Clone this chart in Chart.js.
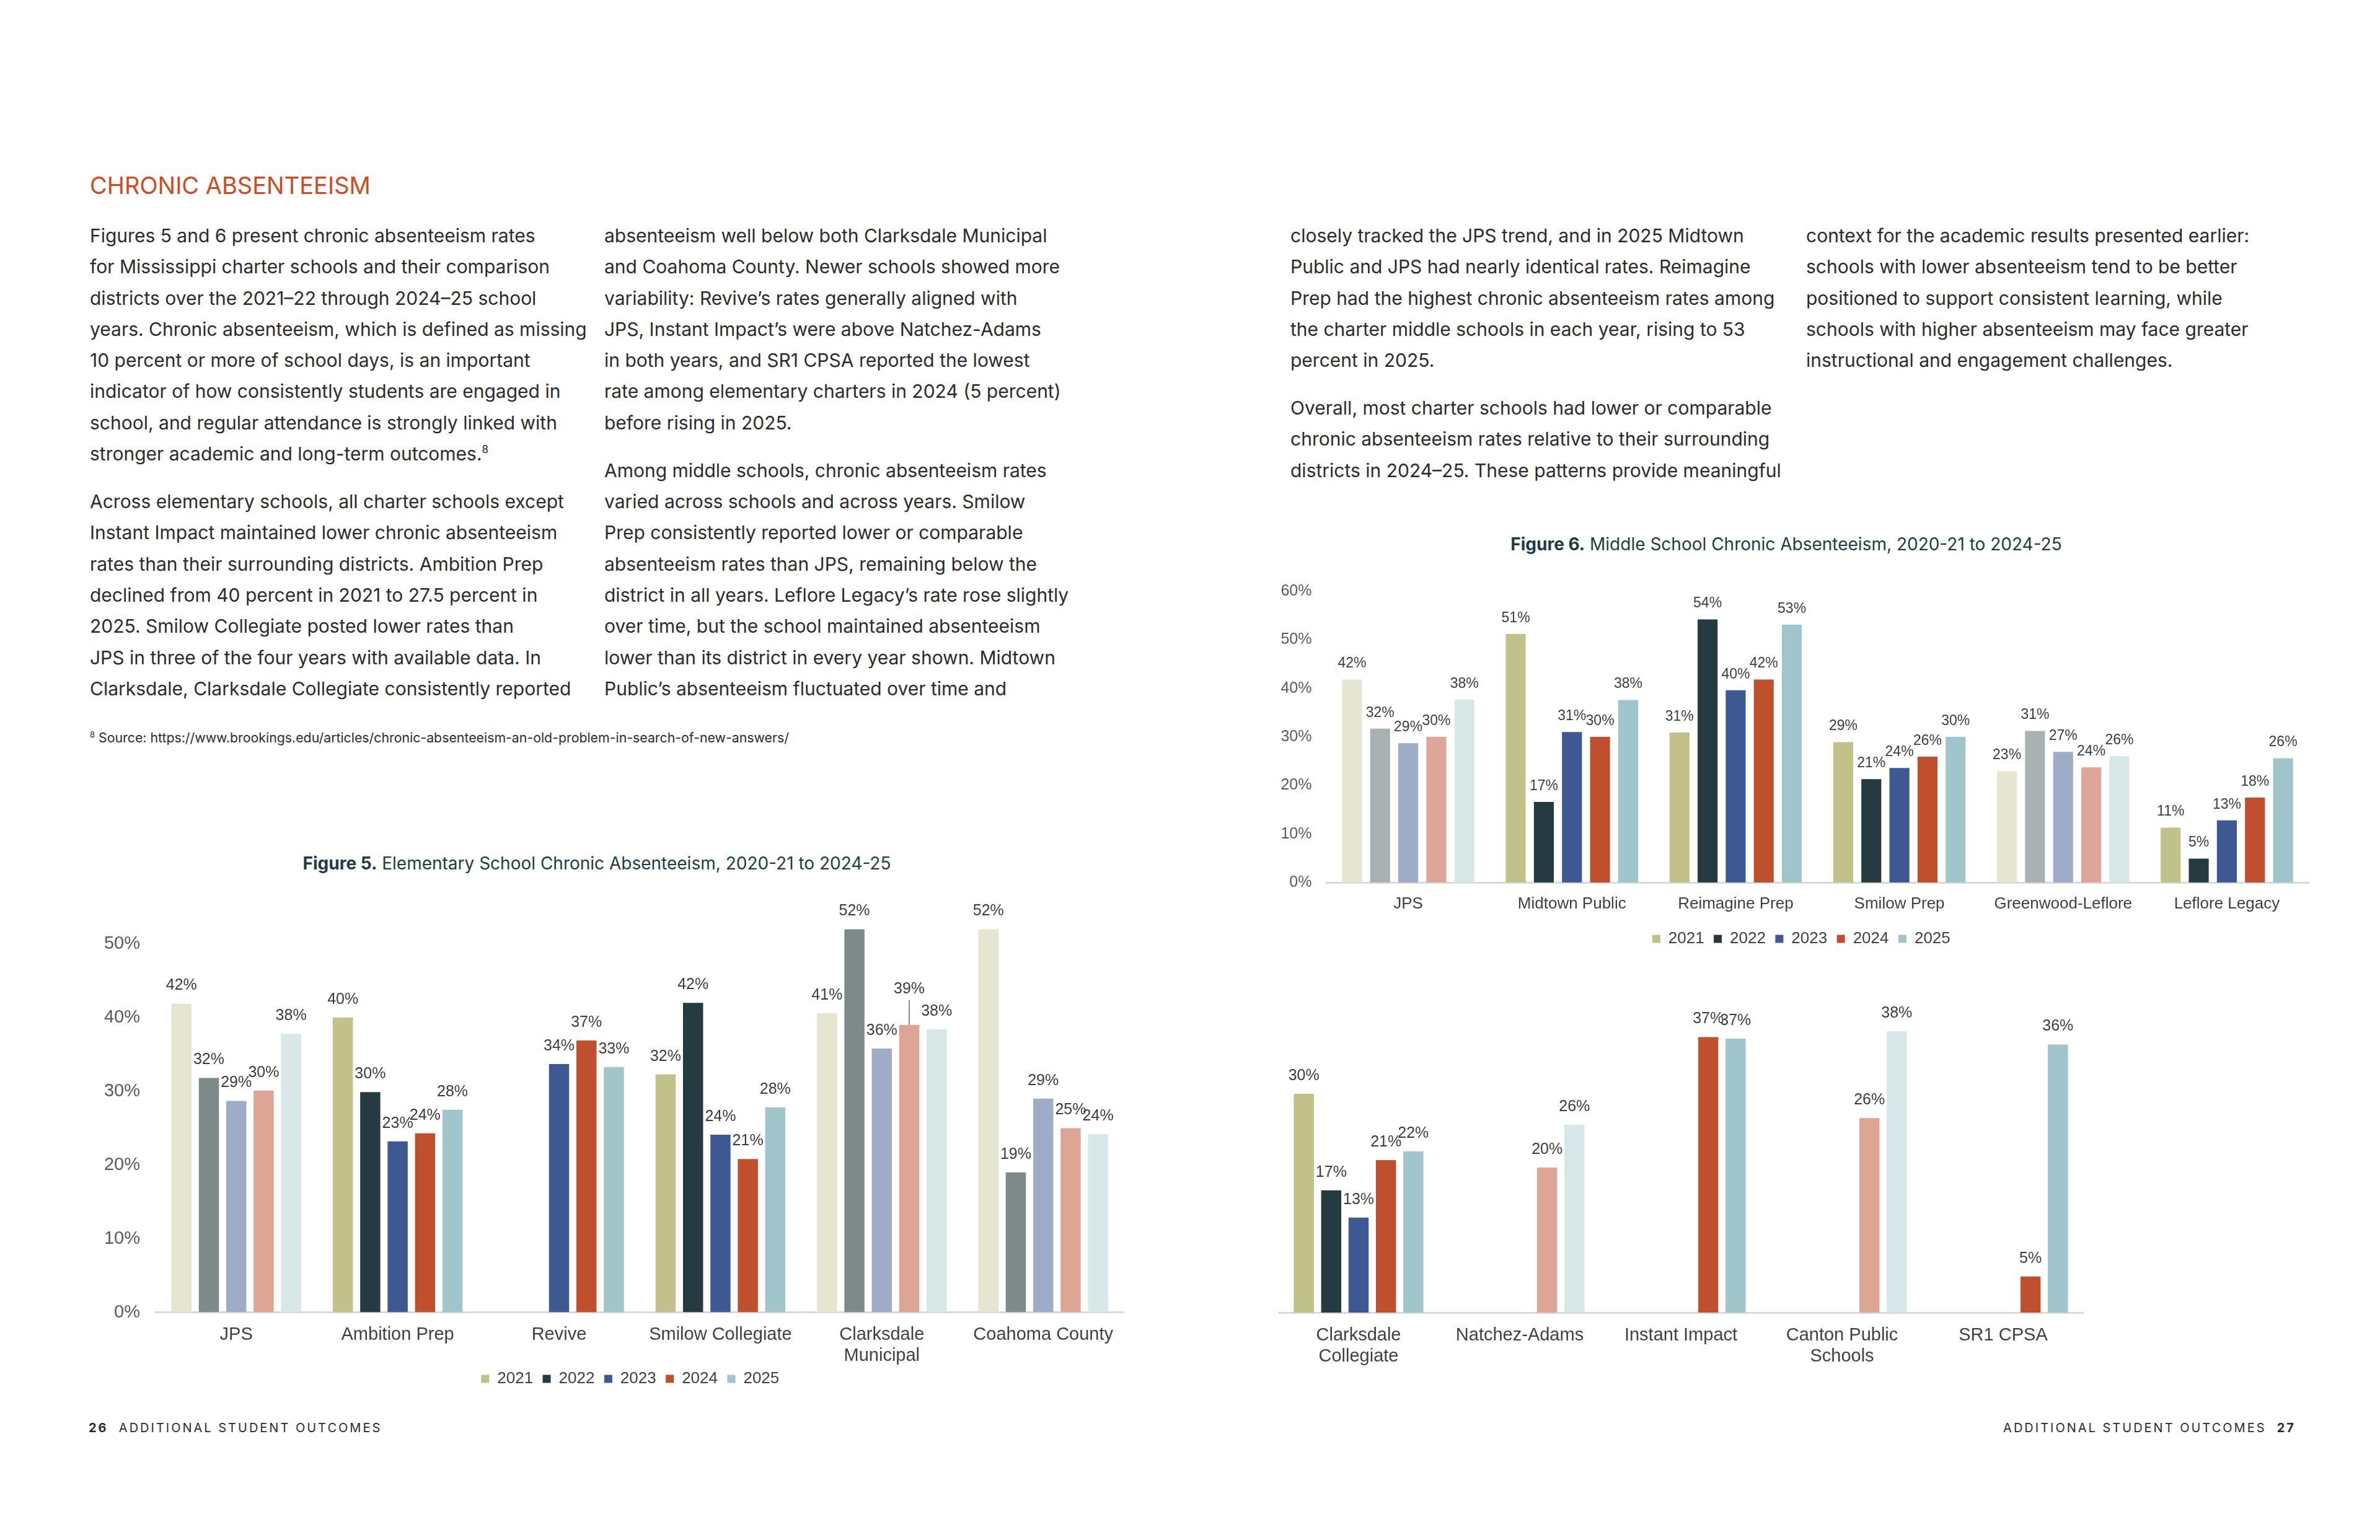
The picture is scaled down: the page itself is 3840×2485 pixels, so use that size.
<!DOCTYPE html>
<html>
<head>
<meta charset="utf-8">
<script src="https://cdn.jsdelivr.net/npm/chart.js@4.4.1/dist/chart.umd.min.js"></script>
<style>
  html, body { margin: 0; padding: 0; background: #fff; }
  body { width: 3840px; height: 2485px; position: relative; overflow: hidden;
         font-family: Inter, "Liberation Sans", sans-serif; color: #2b2b2b; }
  .t { position: absolute; white-space: nowrap; }
  .col { font-size: 30px; line-height: 50.3px; }
  .col p { margin: 0 0 26.7px 0; }
  .col sup { font-size: 17px; line-height: 0; vertical-align: 12px; }
  .head { font-size: 38px; line-height: 38px; color: #d0491f; }
  .fig { font-size: 28px; line-height: 28px; color: #1e3b45; transform: translateX(-50%); }
  .note { font-size: 21.3px; line-height: 20px; color: #2b2b2b; }
  .note sup { font-size: 13px; vertical-align: 8px; line-height: 0; }
  .foot { font-size: 20px; line-height: 20px; letter-spacing: 3px; color: #2b2b2b; }
  canvas { position: absolute; }
</style>
</head>
<body>

<div class="t head" style="left:145px; top:280px;">CHRONIC ABSENTEEISM</div>

<div class="t col" style="left:145px; top:355px;">
<p>Figures 5 and 6 present chronic absenteeism rates<br>
for Mississippi charter schools and their comparison<br>
districts over the 2021–22 through 2024–25 school<br>
years. Chronic absenteeism, which is defined as missing<br>
10 percent or more of school days, is an important<br>
indicator of how consistently students are engaged in<br>
school, and regular attendance is strongly linked with<br>
stronger academic and long-term outcomes.<sup>8</sup></p>
<p>Across elementary schools, all charter schools except<br>
Instant Impact maintained lower chronic absenteeism<br>
rates than their surrounding districts. Ambition Prep<br>
declined from 40 percent in 2021 to 27.5 percent in<br>
2025. Smilow Collegiate posted lower rates than<br>
JPS in three of the four years with available data. In<br>
Clarksdale, Clarksdale Collegiate consistently reported</p>
</div>

<div class="t col" style="left:975px; top:355px;">
<p>absenteeism well below both Clarksdale Municipal<br>
and Coahoma County. Newer schools showed more<br>
variability: Revive’s rates generally aligned with<br>
JPS, Instant Impact’s were above Natchez-Adams<br>
in both years, and SR1 CPSA reported the lowest<br>
rate among elementary charters in 2024 (5 percent)<br>
before rising in 2025.</p>
<p>Among middle schools, chronic absenteeism rates<br>
varied across schools and across years. Smilow<br>
Prep consistently reported lower or comparable<br>
absenteeism rates than JPS, remaining below the<br>
district in all years. Leflore Legacy’s rate rose slightly<br>
over time, but the school maintained absenteeism<br>
lower than its district in every year shown. Midtown<br>
Public’s absenteeism fluctuated over time and</p>
</div>

<div class="t col" style="left:2082px; top:355px;">
<p>closely tracked the JPS trend, and in 2025 Midtown<br>
Public and JPS had nearly identical rates. Reimagine<br>
Prep had the highest chronic absenteeism rates among<br>
the charter middle schools in each year, rising to 53<br>
percent in 2025.</p>
<p>Overall, most charter schools had lower or comparable<br>
chronic absenteeism rates relative to their surrounding<br>
districts in 2024–25. These patterns provide meaningful</p>
</div>

<div class="t col" style="left:2914px; top:355px;">
<p>context for the academic results presented earlier:<br>
schools with lower absenteeism tend to be better<br>
positioned to support consistent learning, while<br>
schools with higher absenteeism may face greater<br>
instructional and engagement challenges.</p>
</div>

<div class="t note" style="left:145px; top:1180px;"><sup>8</sup> Source: https://www.brookings.edu/articles/chronic-absenteeism-an-old-problem-in-search-of-new-answers/</div>

<div class="t fig" style="left:2882px; top:864px;"><b>Figure 6.</b> Middle School Chronic Absenteeism, 2020-21 to 2024-25</div>
<div class="t fig" style="left:963px; top:1379px;"><b>Figure 5.</b> Elementary School Chronic Absenteeism, 2020-21 to 2024-25</div>

<canvas id="fig6"></canvas>
<canvas id="fig5a"></canvas>
<canvas id="fig5b"></canvas>

<div class="t foot" style="left:143px; top:2294px;"><b>26</b>&nbsp;&nbsp;ADDITIONAL STUDENT OUTCOMES</div>
<div class="t foot" style="right:136px; top:2294px;">ADDITIONAL STUDENT OUTCOMES&nbsp;&nbsp;<b>27</b></div>

<script>
const years = ['2021', '2022', '2023', '2024', '2025'];

// Figure 6 - middle schools
const msSchools = ['JPS', 'Midtown Public', 'Reimagine Prep', 'Smilow Prep', 'Greenwood-Leflore', 'Leflore Legacy'];
const msDistrict = [true, false, false, false, true, false];
const ms2021 = [41.8, 51.2, 30.9, 28.9, 22.9, 11.3];
const ms2022 = [31.7, 16.6, 54.2, 21.3, 31.2, 4.9];
const ms2023 = [28.7, 31.0, 39.6, 23.6, 26.9, 12.8];
const ms2024 = [30.0, 30.0, 41.8, 25.9, 23.7, 17.5];
const ms2025 = [37.7, 37.6, 53.1, 30.0, 26.0, 25.6];

// Figure 5 - elementary schools (left page)
const esSchools = ['JPS', 'Ambition Prep', 'Revive', 'Smilow Collegiate', ['Clarksdale', 'Municipal'], 'Coahoma County'];
const esDistrict = [true, false, false, false, true, true];
const es2021 = [41.9, 40.0, null, 32.3, 40.6, 52.0];
const es2022 = [31.8, 29.9, null, 42.0, 52.0, 19.0];
const es2023 = [28.7, 23.2, 33.7, 24.1, 35.8, 29.0];
const es2024 = [30.1, 24.3, 36.9, 20.8, 39.0, 25.0];
const es2025 = [37.8, 27.5, 33.3, 27.8, 38.4, 24.2];

// Figure 5 - elementary schools (right page)
const es2Schools = [['Clarksdale', 'Collegiate'], 'Natchez-Adams', 'Instant Impact', ['Canton Public', 'Schools'], 'SR1 CPSA'];
const es2District = [false, true, false, true, false];
const es2_2021 = [29.7, null, null, null, null];
const es2_2022 = [16.6, null, null, null, null];
const es2_2023 = [12.9, null, null, null, null];
const es2_2024 = [20.7, 19.7, 37.4, 26.4, 4.9];
const es2_2025 = [21.9, 25.5, 37.2, 38.2, 36.4];

const yTicks = [0, 10, 20, 30, 40, 50, 60];

const charterColors = ['#c2c18a', '#263b41', '#3d5892', '#c0502d', '#a0c5ca'];
const districtColors6 = ['#e6e6d2', '#a9b1b2', '#9eacc8', '#dea696', '#d8e8e9'];
const districtColors5 = ['#e5e5d0', '#7e8a8a', '#9eacc8', '#dea595', '#d8e8e8'];

const chartFont = '"Liberation Sans", Arial, sans-serif';

// value labels above the bars
const barLabels = {
    id: 'barLabels',
    afterDatasetsDraw(chart, args, opts) {
        const ctx = chart.ctx;
        ctx.save();
        ctx.font = opts.size + 'px ' + chartFont;
        ctx.fillStyle = opts.color;
        ctx.textAlign = 'center';
        ctx.textBaseline = 'middle';
        chart.data.datasets.forEach((ds, di) => {
            chart.getDatasetMeta(di).data.forEach((bar, i) => {
                const v = ds.data[i];
                if (v === null || v === undefined) return;
                const lift = (opts.lifts || []).find(l => l.ds === di && l.i === i);
                const y = bar.y - opts.offset - (lift ? lift.by : 0);
                if (lift) {
                    ctx.strokeStyle = '#8a8a8a';
                    ctx.lineWidth = 2;
                    ctx.beginPath();
                    ctx.moveTo(bar.x, y + 18);
                    ctx.lineTo(bar.x, bar.y);
                    ctx.stroke();
                }
                ctx.fillText(Math.round(v) + '%', bar.x, y);
            });
        });
        ctx.restore();
    }
};

function makeSets(series, flags, pal, barPct, catPct) {
    return series.map((data, i) => ({
        label: years[i],
        data: data,
        backgroundColor: c => flags[c.dataIndex] ? pal[i] : charterColors[i],
        borderWidth: 0,
        barPercentage: barPct,
        categoryPercentage: catPct
    }));
}

function makeConfig(cfg) {
    const scales = {
        x: {
            grid: { display: false, drawTicks: false },
            border: { display: true, color: '#d9d9d9', width: 3 },
            ticks: {
                font: { family: chartFont, size: cfg.catSize, lineHeight: 1.17 }, color: '#404040',
                padding: cfg.xPad, maxRotation: 0, autoSkip: false
            },
            afterFit: s => { s.height = cfg.xH; }
        },
        y: {
            display: cfg.yAxis,
            min: 0, max: 60,
            grid: { display: false, drawTicks: false },
            border: { display: false },
            afterBuildTicks: s => { s.ticks = yTicks.map(v => ({ value: v })); },
            ticks: {
                font: { family: chartFont, size: cfg.tickSize }, color: '#595959', padding: cfg.yPad,
                callback: v => v <= cfg.yTop ? v + '%' : ''
            },
            afterFit: s => { if (cfg.yAxis) s.width = cfg.yW; }
        }
    };
    if (cfg.y2W) {
        // empty spacer on the right so the legend sits where it does in the report
        scales.yR = {
            type: 'linear', position: 'right', display: true,
            grid: { display: false, drawTicks: false }, border: { display: false },
            ticks: { display: false },
            afterFit: s => { s.width = cfg.y2W; }
        };
    }
    return {
        type: 'bar',
        data: { labels: cfg.labels, datasets: makeSets(cfg.series, cfg.flags, cfg.pal, cfg.barPct, cfg.catPct) },
        plugins: [barLabels],
        options: {
            responsive: false,
            maintainAspectRatio: false,
            animation: false,
            devicePixelRatio: 1,
            layout: { padding: { left: 0, right: 0, top: 40, bottom: 0 } },
            plugins: {
                tooltip: { enabled: false },
                legend: cfg.legend ? {
                    display: true,
                    position: 'bottom',
                    labels: {
                        boxWidth: 13, boxHeight: 13, padding: 1, color: '#404040',
                        font: { family: chartFont, size: 26 },
                        generateLabels: () => years.map((y, i) => ({
                            text: y + '  ', fillStyle: charterColors[i], strokeStyle: charterColors[i],
                            lineWidth: 0, hidden: false, datasetIndex: i, fontColor: '#404040'
                        }))
                    }
                } : { display: false },
                barLabels: { size: cfg.labelSize, offset: cfg.labelOffset, color: '#3b3b3b', lifts: cfg.lifts || [] }
            },
            scales: scales
        }
    };
}

// build once, measure the plot area, rebuild so the plot area lands on the target box
function build(id, cfg, box) {
    const c = document.getElementById(id);
    c.width = 1800; c.height = 900;
    let chart = new Chart(c, makeConfig(cfg));
    const ca = chart.chartArea;
    const w = Math.round(c.width + (box.right - box.left) - (ca.right - ca.left));
    const h = Math.round(c.height + (box.bottom - box.top) - (ca.bottom - ca.top));
    chart.destroy();
    c.width = w; c.height = h;
    chart = new Chart(c, makeConfig(cfg));
    const ca2 = chart.chartArea;
    c.style.left = Math.round(box.left - ca2.left) + 'px';
    c.style.top = Math.round(box.top - ca2.top) + 'px';
    return chart;
}

build('fig6', {
    labels: msSchools, flags: msDistrict, pal: districtColors6,
    series: [ms2021, ms2022, ms2023, ms2024, ms2025],
    barPct: 0.71, catPct: 0.858,
    yW: 90, y2W: 52, yPad: 23.5, yAxis: true, yTop: 60, tickSize: 25,
    catSize: 26, xPad: 20, xH: 77, legend: true,
    labelSize: 23, labelOffset: 25.5
}, { left: 2139.5, right: 3724, top: 954, bottom: 1424 });

build('fig5a', {
    labels: esSchools, flags: esDistrict, pal: districtColors5,
    series: [es2021, es2022, es2023, es2024, es2025],
    barPct: 0.735, catPct: 0.849,
    yW: 110, y2W: 93.6, yPad: 25, yAxis: true, yTop: 50, tickSize: 29,
    catSize: 29, xPad: 20, xH: 93.5, legend: true,
    labelSize: 25, labelOffset: 29,
    lifts: [{ ds: 3, i: 4, by: 29 }]
}, { left: 250.8, right: 1813, top: 1404.3, bottom: 2117.5 });

build('fig5b', {
    labels: es2Schools, flags: es2District, pal: districtColors5,
    series: [es2_2021, es2_2022, es2_2023, es2_2024, es2_2025],
    barPct: 0.735, catPct: 0.849,
    yW: 0, y2W: 0, yPad: 0, yAxis: false, yTop: 50, tickSize: 29,
    catSize: 29, xPad: 20, xH: 92, legend: false,
    labelSize: 25, labelOffset: 29
}, { left: 2062, right: 3362, top: 1405, bottom: 2118 });
</script>
</body>
</html>
